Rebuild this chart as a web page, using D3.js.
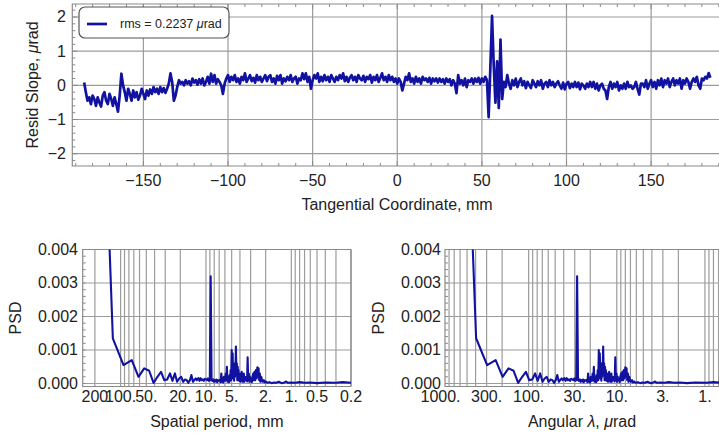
<!DOCTYPE html>
<html>
<head>
<meta charset="utf-8">
<script src="https://cdn.jsdelivr.net/npm/d3@7"></script>
<style>
  html, body { margin: 0; padding: 0; background: #fff; }
  svg { display: block; }
  text { font-family: "Liberation Sans", Arial, sans-serif; fill: #222; }
</style>
</head>
<body>
<svg id="chart" width="719" height="438"></svg>
<script>
// Residual slope profile, sampled every 1 mm along the tangential coordinate
const slopeStart = -185;   // mm
const slopeStep = 1;       // mm
const slopeY = [
  0.08,-0.2,-0.45,-0.35,-0.55,-0.3,-0.4,-0.6,-0.35,-0.5,
  -0.62,-0.3,-0.2,-0.45,-0.55,-0.25,-0.4,-0.6,-0.35,-0.55,
  -0.77,-0.3,0.34,0.0,-0.2,-0.45,-0.1,-0.25,-0.45,-0.15,
  -0.35,-0.2,-0.42,-0.3,-0.1,-0.25,-0.4,-0.15,-0.3,-0.12,
  -0.25,-0.05,-0.2,-0.1,-0.25,-0.05,-0.2,-0.08,-0.22,-0.1,
  0.05,0.35,0.1,-0.45,-0.3,-0.05,0.15,0.05,0.1,0.0,
  0.15,0.05,0.12,0.0,0.2,0.08,0.15,0.02,0.18,0.05,
  0.2,0.0,0.1,0.25,0.05,0.34,0.1,0.3,0.05,0.18,
  0.1,0.0,-0.25,0.05,0.2,0.3,0.1,0.25,0.15,0.3,
  0.1,0.2,0.05,0.25,0.15,0.35,0.1,0.2,0.3,0.12,
  0.22,0.08,0.3,0.15,0.25,0.1,0.2,0.3,0.12,0.25,
  0.3,0.1,0.2,0.05,0.28,0.15,0.3,0.05,0.2,0.12,
  0.25,0.15,0.3,0.1,0.2,0.25,0.05,0.2,0.15,0.35,
  0.18,0.35,0.1,0.25,-0.1,0.15,0.3,0.2,0.35,0.1,
  0.25,0.12,0.3,0.15,0.25,0.1,0.3,0.2,0.1,0.25,
  0.15,0.3,0.2,0.35,0.12,0.25,0.1,0.22,0.3,0.15,
  0.25,0.1,0.3,0.2,0.15,0.28,0.1,0.25,0.18,0.3,
  0.08,0.25,0.15,0.3,0.1,0.22,0.35,0.15,0.25,0.1,
  0.3,0.15,0.25,0.1,0.2,0.05,0.2,0.1,-0.15,0.05,
  0.25,0.15,0.35,0.1,0.2,0.05,0.25,0.1,0.2,0.05,
  0.25,0.15,0.2,0.1,0.22,0.05,0.2,0.12,0.2,0.08,
  0.2,0.1,0.18,0.05,0.2,0.1,0.18,0.0,0.15,0.05,
  -0.23,0.3,0.05,0.15,0.0,0.2,-0.05,0.15,0.1,0.2,
  0.05,0.2,0.1,0.22,0.05,0.2,0.1,0.25,0.15,-0.93,
  0.5,2.03,0.6,-0.51,0.7,-0.66,1.34,-0.4,0.1,-0.05,
  0.3,0.05,-0.1,0.15,0.0,0.2,-0.05,0.1,0.2,0.0,
  0.12,-0.08,0.1,0.0,-0.08,0.15,0.05,-0.05,0.12,0.0,
  0.15,-0.1,0.05,0.1,-0.05,0.15,0.0,0.1,-0.05,0.05,
  0.12,0.0,-0.1,0.08,-0.12,0.05,0.1,-0.08,0.05,-0.05,
  0.1,-0.05,0.08,-0.12,0.05,0.0,-0.1,0.05,-0.05,0.1,
  -0.05,0.1,-0.1,0.05,-0.15,0.0,0.05,-0.1,-0.15,-0.4,
  -0.05,0.1,-0.1,0.05,-0.05,0.1,-0.15,0.0,-0.1,0.05,
  -0.1,0.1,-0.05,0.0,-0.1,-0.05,0.1,-0.1,-0.27,0.05,
  0.05,-0.05,0.15,-0.1,0.05,0.15,-0.05,0.1,-0.1,0.15,
  0.0,0.2,-0.05,0.15,0.05,0.2,-0.05,0.1,0.2,0.0,
  0.15,0.05,0.2,-0.1,0.15,0.05,0.2,0.1,-0.1,0.1,
  0.2,0.1,0.25,0.0,-0.1,0.2,0.15,0.25,0.2,0.36,
  0.22
];
const slopeXTicks = [-150, -100, -50, 0, 50, 100, 150];
const slopeYTicks = [-2, -1, 0, 1, 2];
const rmsLabel = "0.2237";

// Power spectral density of the residual slope, by spatial period (mm)
const psdPeriod = [185,123.3,92.5,74,61.7,52.9,46.3,41.1,37,33.6,30.8,28.5,26.4,24.7,23.1,21.8,20.6,19.5,18.5,17.6,16.8,16.1,15.4,14.8,14.2,13.7,13.2,12.8,12.3,11.9,11.6,11.2,10.9,10.6,10.3,10.0,9.74,9.49,9.25,9.02,8.81,8.6,8.4,8.22,8.04,7.87,7.71,7.55,7.4,7.25,7.12,6.98,6.85,6.73,6.61,6.49,6.38,6.27,6.17,6.07,5.97,5.87,5.78,5.69,5.6,5.52,5.44,5.36,5.29,5.21,5.14,5.07,5.0,4.93,4.87,4.81,4.74,4.68,4.62,4.57,4.51,4.46,4.4,4.35,4.3,4.25,4.2,4.16,4.11,4.07,4.02,3.98,3.94,3.9,3.85,3.81,3.78,3.74,3.7,3.67,3.63,3.6,3.56,3.5,3.43,3.36,3.3,3.25,3.2,3.15,3.1,3.05,3.0,2.95,2.9,2.85,2.79,2.75,2.7,2.65,2.6,2.55,2.5,2.46,2.42,2.38,2.34,2.3,2.25,2.2,2.15,2.1,2.05,2.0,1.9,1.8,1.7,1.6,1.5,1.4,1.3,1.2,1.15,1.1,1.0,0.9,0.8,0.7,0.6,0.5,0.4,0.3,0.25,0.2];
const psdValue = [0.0137,0.00135,0.00055,0.0007,0.0002,0.00045,0.00038,0.00002,0.0002,0.00035,0.0001,0.00012,0.0003,0.00008,0.0003,0.00005,0.00015,0.0002,0.00005,0.00012,0.0001,0.00002,0.0001,0.00025,0.00005,0.0001,0.00015,0.0001,0.00016,0.00008,0.00016,0.0001,0.00012,0.00008,0.00014,0.00012,0.0001,0.00015,0.00008,0.0001,0.0032,0.0001,0.00008,0.00012,0.00005,0.0001,0.00006,0.00012,0.00004,0.0001,0.00008,0.0001,0.0001,0.00004,0.0003,0.00005,0.00012,0.00003,0.0002,0.0001,0.00008,0.0003,0.0001,0.0005,0.00005,0.00015,0.0002,0.00004,0.00025,0.00008,0.0004,0.0001,0.001,0.0002,0.0009,0.00015,0.0004,0.00008,0.0006,0.0002,0.00045,0.0011,0.0003,0.0006,0.0001,0.0005,0.0002,0.0004,0.00008,0.00025,0.0001,0.0003,0.00005,0.0002,0.0001,0.00035,0.00008,0.0002,0.00005,0.00015,0.0001,0.0003,0.00005,0.0002,0.0001,0.0002,0.00006,0.00078,0.0001,0.0003,0.00005,0.0002,0.0001,0.00015,0.00004,0.0002,0.0003,0.0001,0.00035,0.0001,0.0004,0.00015,0.00048,0.0002,0.00045,0.0001,0.0003,0.00005,0.0002,0.00008,0.00005,0.0001,0.00003,0.00006,0.00002,0.00004,0.00001,0.00003,0.00002,0.00005,0.00001,0.00003,0.00006,0.00002,0.00003,0.00002,0.00004,0.00002,0.00003,0.00001,0.00003,0.00002,0.00004,0.00002];
const psdYTicks = [0, 0.001, 0.002, 0.003, 0.004];
const periodTicks = [200, 100, 50, 20, 10, 5, 2, 1, 0.5, 0.2];
const periodTickLabels = ["200", "100.", "50.", "20.", "10.", "5.", "2.", "1.", "0.5", "0.2"];
// Angular wavelength per mm of spatial period (μrad / mm)
const angularPerMm = 3.2;
const angularTicks = [1000, 300, 100, 30, 10, 3, 1];
const angularTickLabels = ["1000.", "300.", "100.", "30.", "10.", "3.", "1."];

const LINE = "#1212a0";
const GRID = "#9c9c9c";
const FRAME = "#8a8a8a";

const svg = d3.select("#chart");

function logGridValues(lo, hi) {
  const out = [];
  for (let e = Math.floor(Math.log10(lo)) - 1; e <= Math.ceil(Math.log10(hi)); e++) {
    for (let m = 1; m <= 9; m++) {
      const v = m * Math.pow(10, e);
      if (v >= lo * 0.999 && v <= hi * 1.001) out.push(+v.toPrecision(6));
    }
  }
  return out;
}

// ---------- Top panel: residual slope ----------
{
  const x = d3.scaleLinear().domain([-192, 193]).range([72.3, 723.9]);
  const y = d3.scaleLinear().domain([-2.36, 2.38]).range([166, 4]);
  const g = svg.append("g");
  const [x0, x1] = x.range(), [y0, y1] = y.range();

  const clipId = "clipTop";
  svg.append("clipPath").attr("id", clipId).append("rect")
    .attr("x", x0).attr("y", y1).attr("width", x1 - x0).attr("height", y0 - y1);

  g.selectAll(".vg").data(slopeXTicks).join("line")
    .attr("x1", d => x(d)).attr("x2", d => x(d)).attr("y1", y1).attr("y2", y0)
    .attr("stroke", GRID).attr("stroke-width", 1.2);
  g.selectAll(".hg").data(slopeYTicks).join("line")
    .attr("x1", x0).attr("x2", x1).attr("y1", d => y(d)).attr("y2", d => y(d))
    .attr("stroke", GRID).attr("stroke-width", 1.2);

  // minor ticks (inward) on bottom/top and left
  const xMinor = d3.range(-190, 191, 10);
  g.selectAll(".xmb").data(xMinor).join("line")
    .attr("x1", d => x(d)).attr("x2", d => x(d))
    .attr("y1", y0).attr("y2", d => y0 - (d % 50 === 0 ? 5 : 3))
    .attr("stroke", FRAME);
  g.selectAll(".xmt").data(xMinor).join("line")
    .attr("x1", d => x(d)).attr("x2", d => x(d))
    .attr("y1", y1).attr("y2", d => y1 + (d % 50 === 0 ? 5 : 3))
    .attr("stroke", FRAME);
  const yMinor = d3.range(-2.2, 2.3, 0.2).map(v => +v.toFixed(1));
  g.selectAll(".yml").data(yMinor).join("line")
    .attr("x1", x0).attr("x2", d => x0 + (Math.abs(d % 1) < 1e-6 ? 5 : 3))
    .attr("y1", d => y(d)).attr("y2", d => y(d))
    .attr("stroke", FRAME);

  g.append("path")
    .attr("d", `M${x1},${y1}H${x0}V${y0}H${x1}`)
    .attr("fill", "none").attr("stroke", FRAME).attr("stroke-width", 1.2);

  const line = d3.line().x((d, i) => x(slopeStart + i * slopeStep)).y(d => y(d));
  g.append("path").datum(slopeY)
    .attr("clip-path", `url(#${clipId})`)
    .attr("d", line)
    .attr("fill", "none").attr("stroke", LINE).attr("stroke-width", 2.7)
    .attr("stroke-linejoin", "round");

  g.selectAll(".xl").data(slopeXTicks).join("text")
    .attr("x", d => x(d)).attr("y", 186)
    .attr("text-anchor", "middle").attr("font-size", 16)
    .text(d => d < 0 ? "\u2212" + Math.abs(d) : d);
  g.selectAll(".yl").data(slopeYTicks).join("text")
    .attr("x", 66).attr("y", d => y(d) + 5.5)
    .attr("text-anchor", "end").attr("font-size", 16)
    .text(d => d < 0 ? "\u2212" + Math.abs(d) : d);

  g.append("text").attr("x", 397).attr("y", 210)
    .attr("text-anchor", "middle").attr("font-size", 16)
    .text("Tangential Coordinate, mm");
  const yl = g.append("text")
    .attr("transform", "translate(38,85) rotate(-90)")
    .attr("text-anchor", "middle").attr("font-size", 16);
  yl.append("tspan").text("Resid Slope, ");
  yl.append("tspan").attr("font-style", "italic").text("\u03bc");
  yl.append("tspan").text("rad");

  // legend
  g.append("rect").attr("x", 79).attr("y", 7).attr("width", 150).attr("height", 31)
    .attr("rx", 6).attr("fill", "#fff").attr("stroke", "#555").attr("stroke-width", 1.2);
  g.append("line").attr("x1", 87).attr("x2", 107).attr("y1", 24).attr("y2", 24)
    .attr("stroke", LINE).attr("stroke-width", 2.7);
  const lt = g.append("text").attr("x", 120).attr("y", 28).attr("font-size", 12.5);
  lt.append("tspan").text(`rms = ${rmsLabel} `);
  lt.append("tspan").attr("font-style", "italic").text("\u03bc");
  lt.append("tspan").text("rad");
}

// ---------- Bottom panels: PSD ----------
function psdPanel(opts) {
  const { xDomain, xRange, ticks, labels, xValues, title, labelRight, id } = opts;
  const x = d3.scaleLog().domain(xDomain).range(xRange);
  const y = d3.scaleLinear().domain([-0.00009, 0.004]).range([386.5, 249.5]);
  const [x0, x1] = x.range(), [y0, y1] = y.range();
  const g = svg.append("g");

  svg.append("clipPath").attr("id", id).append("rect")
    .attr("x", x0).attr("y", y1).attr("width", x1 - x0).attr("height", y0 - y1);

  const lo = Math.min(...xDomain), hi = Math.max(...xDomain);
  g.selectAll(".vg").data(logGridValues(lo, hi)).join("line")
    .attr("x1", d => x(d)).attr("x2", d => x(d)).attr("y1", y1).attr("y2", y0)
    .attr("stroke", GRID).attr("stroke-width", 1.2);
  g.selectAll(".hg").data(psdYTicks).join("line")
    .attr("x1", x0).attr("x2", x1).attr("y1", d => y(d)).attr("y2", d => y(d))
    .attr("stroke", GRID).attr("stroke-width", 1.2);
  const yMinor = d3.range(0, 0.0041, 0.0002);
  g.selectAll(".yml").data(yMinor).join("line")
    .attr("x1", x0).attr("x2", x0 + 3)
    .attr("y1", d => y(d)).attr("y2", d => y(d)).attr("stroke", FRAME);

  g.append("path")
    .attr("d", `M${x1},${y1}H${x0}V${y0}H${x1}`)
    .attr("fill", "none").attr("stroke", FRAME).attr("stroke-width", 1.2);
  g.append("line").attr("x1", x1).attr("x2", x1).attr("y1", y1).attr("y2", y0)
    .attr("stroke", FRAME).attr("stroke-width", 1.2);

  const line = d3.line().x((d, i) => x(xValues[i])).y(d => y(d));
  g.append("path").datum(psdValue)
    .attr("clip-path", `url(#${id})`)
    .attr("d", line)
    .attr("fill", "none").attr("stroke", LINE).attr("stroke-width", 2.1)
    .attr("stroke-linejoin", "round");

  g.selectAll(".xl").data(ticks).join("text")
    .attr("x", d => x(d)).attr("y", 402)
    .attr("text-anchor", "middle").attr("font-size", 16)
    .text((d, i) => labels[i]);
  g.selectAll(".yl").data(psdYTicks).join("text")
    .attr("x", labelRight).attr("y", d => y(d) + 5.5)
    .attr("text-anchor", "end").attr("font-size", 16)
    .text(d => d.toFixed(3));
  g.append("text")
    .attr("transform", `translate(${labelRight - 57},318) rotate(-90)`)
    .attr("text-anchor", "middle").attr("font-size", 16).text("PSD");
  const t = g.append("text").attr("x", (x0 + Math.min(x1, 719)) / 2).attr("y", 427)
    .attr("text-anchor", "middle").attr("font-size", 16);
  title(t);
}

psdPanel({
  id: "clipPsdL", xDomain: [278, 0.2], xRange: [82.7, 351],
  ticks: periodTicks, labels: periodTickLabels, xValues: psdPeriod,
  labelRight: 78,
  title: t => t.text("Spatial period, mm")
});
psdPanel({
  id: "clipPsdR", xDomain: [278 * angularPerMm, 0.2 * angularPerMm], xRange: [445, 722],
  ticks: angularTicks, labels: angularTickLabels,
  xValues: psdPeriod.map(p => p * angularPerMm),
  labelRight: 441,
  title: t => {
    t.append("tspan").text("Angular ");
    t.append("tspan").attr("font-style", "italic").text("\u03bb");
    t.append("tspan").text(", ");
    t.append("tspan").attr("font-style", "italic").text("\u03bc");
    t.append("tspan").text("rad");
  }
});
</script>
</body>
</html>
